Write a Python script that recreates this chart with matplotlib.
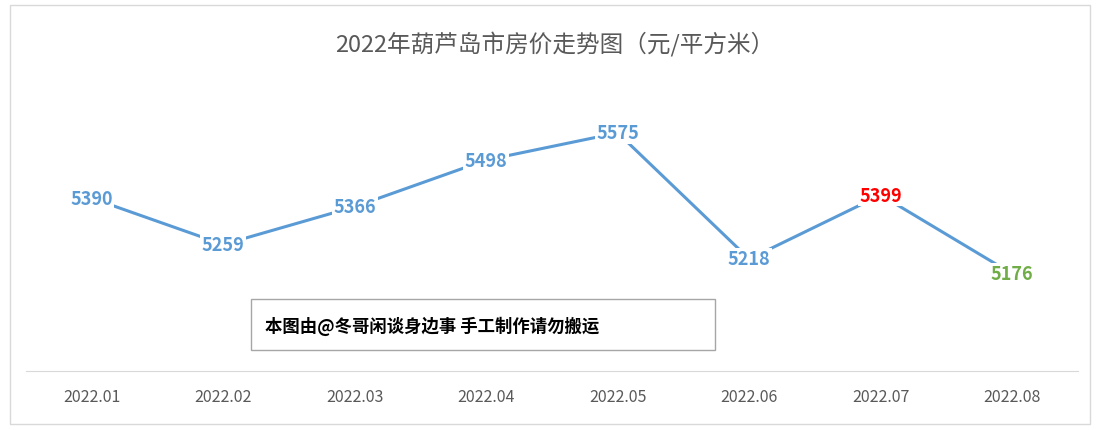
import matplotlib
matplotlib.use("Agg")
import matplotlib.pyplot as plt
from matplotlib.patches import Rectangle

months = ["2022.01","2022.02","2022.03","2022.04","2022.05","2022.06","2022.07","2022.08"]
prices = [5390, 5259, 5366, 5498, 5575, 5218, 5399, 5176]
label_colors = ["#5B9BD5"]*6 + ["#FF0000", "#70AD47"]
title = "2022年葫芦岛市房价走势图（元/平方米）"
note = "本图由@冬哥闲谈身边事 手工制作请勿搬运"

plt.rcParams["font.family"] = ["Noto Sans CJK SC", "DejaVu Sans"]
W, H = 1109, 431
fig = plt.figure(figsize=(W/100, H/100), dpi=100)
fig.patch.set_facecolor("white")
fig.add_artist(Rectangle((10/W, 6/H), 1080/W, 419/H, transform=fig.transFigure,
                         fill=False, edgecolor="#D9D9D9", lw=1))

ax = fig.add_axes([26/W, (H-372)/H, 1052/W, 312/H])
x = list(range(len(months)))
ax.plot(x, prices, color="#5B9BD5", lw=2.2, zorder=2)
for xi, p, c in zip(x, prices, label_colors):
    ax.text(xi, p, str(p), color=c, ha="center", va="center", fontsize=13,
            fontweight="bold", zorder=3,
            bbox=dict(facecolor="white", edgecolor="none", pad=1))
ax.set_xlim(-0.5, 7.5)
ax.set_ylim(4901, 5784)
ax.set_xticks(x)
ax.set_xticklabels(months, fontsize=11.5, color="#595959")
ax.tick_params(axis="x", length=0, pad=12)
ax.set_yticks([])
for s in ["top", "right", "left"]:
    ax.spines[s].set_visible(False)
ax.spines["bottom"].set_color("#D9D9D9")

fig.text(0.5, (H-45)/H, title, ha="center", va="center", fontsize=17, color="#595959")
fig.add_artist(Rectangle((251/W, (H-351)/H), 464/W, 51/H, transform=fig.transFigure,
                         fill=True, facecolor="white", edgecolor="#A6A6A6", lw=1))
fig.text(265/W, (H-326)/H, note, ha="left", va="center", fontsize=12.5,
         fontweight="bold", color="black")
fig.savefig("out.png", dpi=100)
